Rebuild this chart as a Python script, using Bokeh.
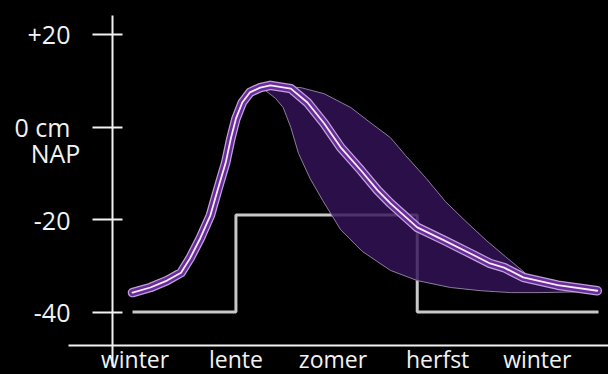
from bokeh.plotting import figure
from bokeh.models import Range1d, LinearAxis, FixedTicker, Label, GlobalInlineStyleSheet
from bokeh.embed import file_html
from bokeh.resources import INLINE

# ---- data (x: day of year, y: water level in cm relative to NAP) ----
line_day = [0, 14, 27, 38, 45, 53, 61, 67, 73, 77, 81, 86, 92, 100, 108, 124, 137, 150,
            163, 179, 192, 202, 223, 244, 265, 280, 291, 306, 333, 364]
line_cm = [-35.8, -34.7, -33.2, -31.5, -28.4, -24.1, -19.1, -13.3, -7.7, -2.5, 1.8, 5.3,
           7.5, 8.5, 9.0, 8.3, 5.3, 0.8, -4.4, -9.4, -13.7, -16.5, -21.7, -24.5, -27.4,
           -29.5, -30.4, -32.5, -34.2, -35.4]

band_upper_day = [104, 116, 132, 150, 171, 186, 202, 214, 230, 245, 261, 277, 292, 309, 325, 343]
band_upper_cm = [8.7, 8.8, 8.5, 7.2, 4.2, 1.0, -2.3, -6.2, -11.1, -16.1, -20.4, -24.5,
                 -28.0, -31.9, -33.8, -34.9]
band_lower_day = [104, 112, 118, 124, 130, 139, 149, 163, 180, 202, 223, 249, 273, 296, 320, 357]
band_lower_cm = [7.9, 6.2, 4.2, -0.1, -5.7, -11.1, -15.9, -22.2, -26.9, -31.0, -33.2,
                 -34.7, -35.4, -35.8, -35.8, -35.6]

peil_day = [0, 81, 223, 365]
peil_cm = [-40, -19, -40, -40]

season_day = [2, 81, 157, 239, 317]
season_labels = ["winter", "lente", "zomer", "herfst", "winter"]

y_ticks = [20, 0, -20, -40]
y_tick_labels = ["+20", "0 cm", "-20", "-40"]

# ---- layout constants (screen placement of the hand-drawn axes) ----
Y_AXIS_DAY = -15.7
X_AXIS_CM = -47.2
FONT = "Open Sans"
WHITE = "#f2f2f2"

p = figure(width=608, height=374, output_backend="svg", toolbar_location=None,
           x_range=Range1d(-103.4, 372.8), y_range=Range1d(-53.51, 27.35),
           min_border_left=0, min_border_right=0, min_border_top=0, min_border_bottom=0,
           x_axis_type=None, y_axis_type=None)
p.background_fill_color = "black"
p.border_fill_color = "black"
p.outline_line_color = None
p.grid.visible = False
p.stylesheets = [GlobalInlineStyleSheet(css="html, body { background-color: #000; }")]

# peil (step line)
p.step(peil_day, peil_cm, mode="after", line_color="#c8c8c8", line_width=3)

# spread band
p.patch(band_upper_day + band_lower_day[::-1], band_upper_cm + band_lower_cm[::-1],
        fill_color="#341258", fill_alpha=0.82, line_color="#8d7d9b", line_width=1)

# main curve
p.line(line_day, line_cm, line_color="#bfa3d8", line_width=9.5, line_cap="round", line_join="round")
p.line(line_day, line_cm, line_color="#6a2c9c", line_width=7, line_cap="round", line_join="round")
p.line(line_day, line_cm, line_color="#f4eefa", line_width=1.8, line_cap="round", line_join="round")

# y axis
yax = LinearAxis(fixed_location=Y_AXIS_DAY, ticker=FixedTicker(ticks=y_ticks),
                 major_label_overrides=dict(zip(y_ticks, y_tick_labels)),
                 bounds=(-51.8, 24.1))
yax.axis_line_color = WHITE
yax.axis_line_width = 2
yax.major_tick_line_color = WHITE
yax.major_tick_line_width = 2
yax.major_tick_out = 20
yax.major_tick_in = 10
yax.minor_tick_line_color = None
yax.major_label_text_color = WHITE
yax.major_label_text_font = FONT
yax.major_label_text_font_size = "25px"
yax.major_label_standoff = 22
p.add_layout(yax, "left")

# x axis
xax = LinearAxis(fixed_location=X_AXIS_CM, ticker=FixedTicker(ticks=season_day),
                 major_label_overrides=dict(zip(season_day, season_labels)),
                 bounds=(-50.1, 372.8))
xax.axis_line_color = WHITE
xax.axis_line_width = 2
xax.major_tick_line_color = None
xax.major_tick_out = 0
xax.major_tick_in = 0
xax.minor_tick_line_color = None
xax.major_label_text_color = WHITE
xax.major_label_text_font = FONT
xax.major_label_text_font_size = "23px"
xax.major_label_standoff = -2
p.add_layout(xax, "below")

p.add_layout(Label(x=Y_AXIS_DAY, y=0, x_units="data", y_units="data", text="NAP",
                   x_offset=-57, y_offset=-26, text_align="center", text_baseline="middle",
                   text_color=WHITE, text_font=FONT, text_font_size="25px"))

open("out.html", "w").write(file_html(p, INLINE))
